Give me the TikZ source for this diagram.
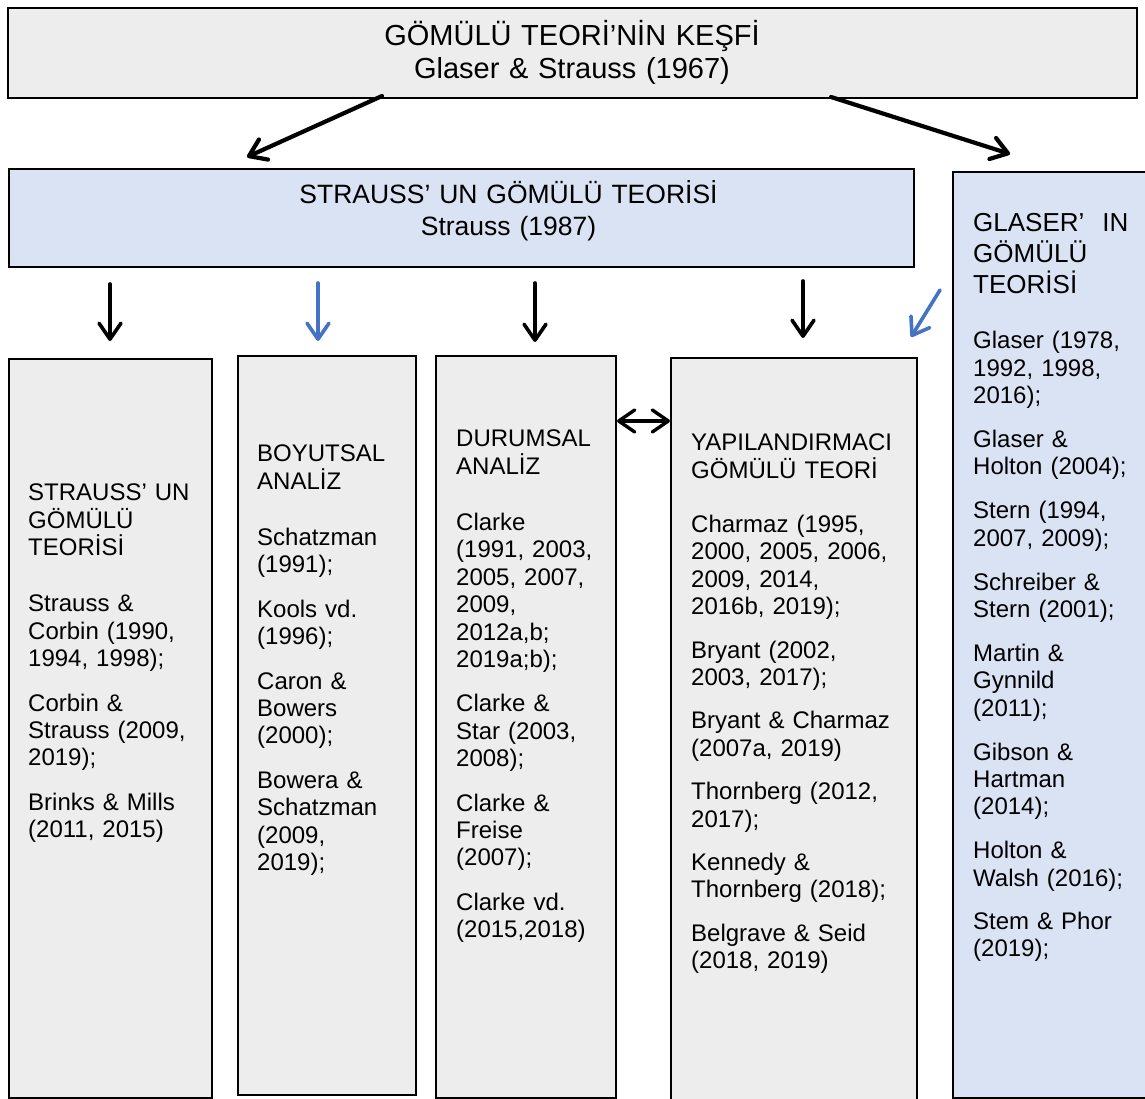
\documentclass[tikz,border=0pt]{standalone}
\usepackage{fontspec}
\setmainfont{Liberation Sans}
\usetikzlibrary{arrows.meta}
\definecolor{boxgray}{HTML}{EDEDED}
\definecolor{boxblue}{HTML}{DAE3F3}
\definecolor{arrblue}{HTML}{4472C4}
\newcommand\mystrut[1]{\rule{0pt}{#1}}
\begin{document}
\begin{tikzpicture}[x=1pt,y=-1pt,
  boxline/.style={draw=black,line width=2pt,rectangle,inner sep=0pt,anchor=north west},
  grbox/.style={boxline,fill=boxgray},
  blbox/.style={boxline,fill=boxblue},
  arr/.style={line width=3.6pt,line cap=round,-{Straight Barb[length=16pt,width=22pt,round]}},
  arrk/.style={arr,draw=black},
  arrb/.style={arr,draw=arrblue},
  coltext/.style={anchor=north west,inner sep=0pt,text width=300pt,align=left,font=\fontsize{24}{27.4}\selectfont},
]
\clip (0,0) rectangle (1145,1099);
\fill[white] (0,0) rectangle (1145,1099);

% boxes
\node[grbox,minimum width=1129pt,minimum height=90pt] (top) at (7,7) {};
\node[blbox,minimum width=905pt,minimum height=98pt] (sbox) at (8,168) {};
\node[blbox,minimum width=220pt,minimum height=926pt] (gbox) at (952,171) {};
\node[grbox,minimum width=203pt,minimum height=739pt] (c1) at (8,358) {};
\node[grbox,minimum width=178pt,minimum height=739pt] (c2) at (237,355) {};
\node[grbox,minimum width=180pt,minimum height=742pt] (c3) at (435,355) {};
\node[grbox,minimum width=246pt,minimum height=770pt] (c4) at (670,357) {};

% titles
\node[anchor=north,inner sep=0pt,text width=900pt,align=center,font=\fontsize{29}{33}\selectfont] (toptxt) at (572,17.5)
  {\mystrut{28pt}GÖMÜLÜ TEORİ’NİN KEŞFİ\\ Glaser \& Strauss (1967)};
\node[anchor=north,inner sep=0pt,text width=800pt,align=center,font=\fontsize{26.5}{31.7}\selectfont] (stxt) at (508.5,177.3)
  {\mystrut{26pt}STRAUSS’ UN GÖMÜLÜ TEORİSİ\\ Strauss (1987)};
\node[anchor=north west,inner sep=0pt,text width=300pt,align=left,font=\fontsize{26}{31}\selectfont] (ghdr) at (973,205.7)
  {\mystrut{26pt}GLASER’\hspace{18pt}IN\\ GÖMÜLÜ\\ TEORİSİ};

% column texts
\node[coltext] (t1) at (28,476.5) {\mystrut{24pt}STRAUSS’ UN\\ GÖMÜLÜ\\ TEORİSİ\\[29pt]
  Strauss \&\\ Corbin (1990,\\ 1994, 1998);\\[17pt]
  Corbin \&\\ Strauss (2009,\\ 2019);\\[17pt]
  Brinks \& Mills\\ (2011, 2015)};
\node[coltext] (t2) at (257,437.5) {\mystrut{24pt}BOYUTSAL\\ ANALİZ\\[29pt]
  Schatzman\\ (1991);\\[17pt]
  Kools vd.\\ (1996);\\[17pt]
  Caron \&\\ Bowers\\ (2000);\\[17pt]
  Bowera \&\\ Schatzman\\ (2009,\\ 2019);};
\node[coltext] (t3) at (456,422.5) {\mystrut{24pt}DURUMSAL\\ ANALİZ\\[29pt]
  Clarke\\ (1991, 2003,\\ 2005, 2007,\\ 2009,\\ 2012a,b;\\ 2019a;b);\\[17pt]
  Clarke \&\\ Star (2003,\\ 2008);\\[17pt]
  Clarke \&\\ Freise\\ (2007);\\[17pt]
  Clarke vd.\\ (2015,2018)};
\node[coltext] (t4) at (691,426.5) {\mystrut{24pt}YAPILANDIRMACI\\ GÖMÜLÜ TEORİ\\[27pt]
  Charmaz (1995,\\ 2000, 2005, 2006,\\ 2009, 2014,\\ 2016b, 2019);\\[16pt]
  Bryant (2002,\\ 2003, 2017);\\[16pt]
  Bryant \& Charmaz\\ (2007a, 2019)\\[16pt]
  Thornberg (2012,\\ 2017);\\[16pt]
  Kennedy \&\\ Thornberg (2018);\\[16pt]
  Belgrave \& Seid\\ (2018, 2019)};
\node[coltext] (t5) at (973,324.5) {\mystrut{24pt}Glaser (1978,\\ 1992, 1998,\\ 2016);\\[16.5pt]
  Glaser \&\\ Holton (2004);\\[16.5pt]
  Stern (1994,\\ 2007, 2009);\\[16.5pt]
  Schreiber \&\\ Stern (2001);\\[16.5pt]
  Martin \&\\ Gynnild\\ (2011);\\[16.5pt]
  Gibson \&\\ Hartman\\ (2014);\\[16.5pt]
  Holton \&\\ Walsh (2016);\\[16pt]
  Stem \& Phor\\ (2019);};

% arrow end points
\coordinate (a1s) at (382,96);   \coordinate (a1e) at (247,157);
\coordinate (a2s) at (831,97);   \coordinate (a2e) at (1010,154);
\coordinate (d1s) at (110,284);  \coordinate (d1e) at (110,341);
\coordinate (d2s) at (318,283);  \coordinate (d2e) at (318,341);
\coordinate (d3s) at (535,283);  \coordinate (d3e) at (535,342);
\coordinate (d4s) at (803,281);  \coordinate (d4e) at (803,338);
\coordinate (d5s) at (940,290);  \coordinate (d5e) at (911,337);

\draw[arrk,line width=4.2pt] (a1s) -- (a1e);
\draw[arrk,line width=4.2pt] (a2s) -- (a2e);
\draw[arrk] (d1s) -- (d1e);
\draw[arrb] (d2s) -- (d2e);
\draw[arrk] (d3s) -- (d3e);
\draw[arrk] (d4s) -- (d4e);
\draw[arrb] (d5s) -- (d5e);
\draw[line width=3.4pt,draw=black,{Straight Barb[length=16pt,width=22pt,round]}-{Straight Barb[length=16pt,width=22pt,round]}] (c3.east |- 0,421) -- (c4.west |- 0,421);
\end{tikzpicture}
\end{document}
